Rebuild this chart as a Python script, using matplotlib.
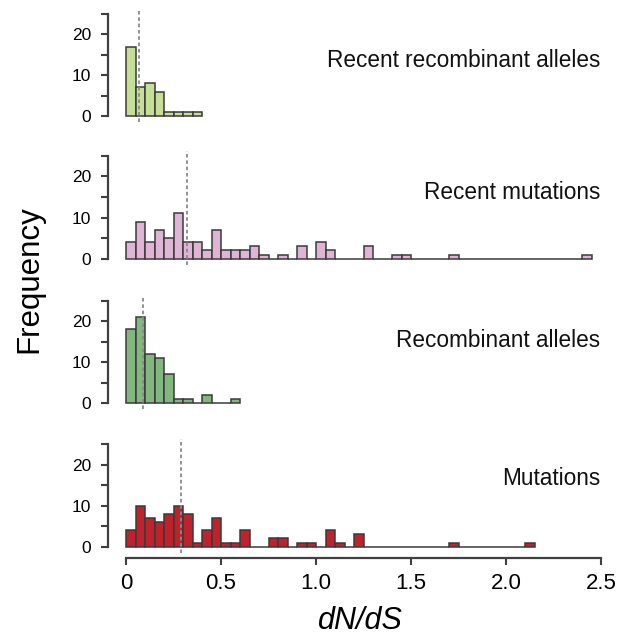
import numpy as np
import matplotlib
matplotlib.use("Agg")
import matplotlib.pyplot as plt

plt.rcParams['font.family'] = ['Liberation Sans', 'DejaVu Sans']

BIN_WIDTH = 0.05

# counts per 0.05-wide dN/dS bin, starting at 0
recent_recomb = [17, 7, 8, 6, 1, 1, 1, 1]
recent_mut = [4, 9, 4, 7, 5, 11, 4, 4, 2, 7, 2, 2, 2, 3, 1, 0, 1, 0, 3, 0,
              4, 2, 0, 0, 0, 3, 0, 0, 1, 1, 0, 0, 0, 0, 1, 0, 0, 0, 0, 0,
              0, 0, 0, 0, 0, 0, 0, 0, 1]
recomb = [18, 21, 12, 11, 7, 1, 1, 0, 2, 0, 0, 1]
mutations = [4, 10, 7, 6, 8, 10, 8, 1, 4, 7, 1, 1, 4, 0, 0, 2, 2, 0, 1, 1,
             0, 4, 1, 0, 3, 0, 0, 0, 0, 0, 0, 0, 0, 0, 1, 0, 0, 0, 0, 0,
             0, 0, 1]

medians = [0.07, 0.32, 0.09, 0.29]
labels = ["Recent recombinant alleles", "Recent mutations",
          "Recombinant alleles", "Mutations"]
colors = ["#c6df96", "#dfb4d5", "#82b880", "#c0222c"]
label_y = [12.1, 14.4, 13.6, 15.0]

x_ticks = [0, 0.5, 1.0, 1.5, 2.0, 2.5]
x_tick_labels = ["0", "0.5", "1.0", "1.5", "2.0", "2.5"]

W, H = 631, 638
fig = plt.figure(figsize=(W / 100, H / 100), dpi=100)

# panel extents in pixels (top, bottom)
panels_px = [(14, 116), (155.7, 258.7), (300.7, 403), (444, 546.7)]
x0_px, x1_px = 126, 601
spine_col = "#404040"

all_counts = [recent_recomb, recent_mut, recomb, mutations]
for i, counts in enumerate(all_counts):
    top, bot = panels_px[i]
    ax = fig.add_axes([x0_px / W, 1 - bot / H, (x1_px - x0_px) / W, (bot - top) / H])
    counts = np.array(counts)
    edges = np.arange(len(counts)) * BIN_WIDTH
    ax.bar(edges, counts, width=BIN_WIDTH, align='edge', color=colors[i],
           edgecolor="#3a3a3a", linewidth=1.1, clip_on=False)
    ax.plot([medians[i], medians[i]], [-1.5, 26.2], color="#8a8a8a",
            linestyle=(0, (2, 1.5)), linewidth=1.3, clip_on=False, zorder=3)
    ax.set_xlim(0, 2.5)
    ax.set_ylim(0, 25)

    for s in ['top', 'right']:
        ax.spines[s].set_visible(False)
    ax.spines['left'].set_position(('outward', 13))
    ax.spines['left'].set_bounds(0, 25)
    ax.spines['left'].set_color(spine_col)
    ax.spines['left'].set_linewidth(1.6)
    ax.set_yticks([0, 5, 10, 15, 20, 25])
    ax.set_yticklabels(["0", "", "10", "", "20", ""])
    ax.tick_params(axis='y', length=5, width=1.5, color=spine_col,
                   labelsize=12.5, pad=7)

    if i == 3:
        ax.spines['bottom'].set_position(('outward', 8))
        ax.spines['bottom'].set_bounds(0, 2.5)
        ax.spines['bottom'].set_color(spine_col)
        ax.spines['bottom'].set_linewidth(1.6)
        ax.set_xticks(x_ticks)
        ax.set_xticklabels(x_tick_labels)
        ax.tick_params(axis='x', length=5, width=1.5, color=spine_col,
                       labelsize=16, pad=6)
    else:
        ax.spines['bottom'].set_visible(False)
        ax.set_xticks([])

    ax.text(2.495, label_y[i], labels[i], ha='right', va='baseline',
            fontsize=16.3, color="#111111")

fig.text(29 / W, 1 - 279 / H, "Frequency", rotation=90, ha='center',
         va='center', fontsize=22.5)
fig.text(360 / W, 1 - 629 / H, "dN/dS", style='italic', ha='center',
         va='baseline', fontsize=22)

fig.savefig("out.png", dpi=100)
